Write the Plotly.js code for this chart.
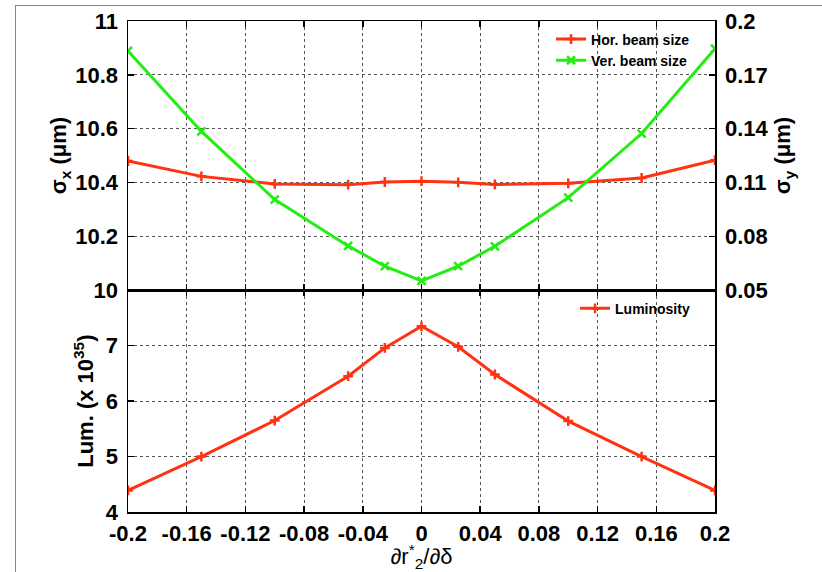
<!DOCTYPE html>
<html>
<head>
<meta charset="utf-8">
<script src="https://cdn.plot.ly/plotly-3.0.1.min.js"></script>
<style>
  html, body { margin: 0; padding: 0; background: #fff; }
  #wrap { position: relative; width: 822px; height: 572px; }
  #frame { position: absolute; left: 15px; top: 5px; width: 807px; height: 567px;
           border-left: 1px solid #888; border-top: 1px solid #888; box-sizing: border-box; pointer-events: none; z-index: 5; }
  #chart { position: absolute; left: 0; top: 0; width: 822px; height: 572px; }
</style>
</head>
<body>
<div id="wrap">
  <div id="chart"></div>
  <div id="frame"></div>
</div>
<script>
// ---- data ----
const xVals = [-0.2, -0.15, -0.1, -0.05, -0.025, 0, 0.025, 0.05, 0.1, 0.15, 0.2];
const horBeamSize = [10.480, 10.423, 10.395, 10.392, 10.402, 10.405, 10.401, 10.393, 10.397, 10.417, 10.483];
const verBeamSize = [0.1833, 0.1385, 0.1005, 0.0747, 0.0634, 0.0552, 0.0634, 0.0745, 0.1016, 0.1373, 0.1846];
const luminosity  = [4.39, 5.00, 5.65, 6.45, 6.96, 7.35, 6.98, 6.48, 5.64, 5.00, 4.39];

const xTickVals = [-0.2, -0.16, -0.12, -0.08, -0.04, 0, 0.04, 0.08, 0.12, 0.16, 0.2];
const xTickText = ["-0.2", "-0.16", "-0.12", "-0.08", "-0.04", "0", "0.04", "0.08", "0.12", "0.16", "0.2"];
const sxTickVals = [10, 10.2, 10.4, 10.6, 10.8, 11];
const sxTickText = ["10", "10.2", "10.4", "10.6", "10.8", "11"];
const syTickVals = [0.05, 0.08, 0.11, 0.14, 0.17, 0.2];
const syTickText = ["0.05", "0.08", "0.11", "0.14", "0.17", "0.2"];
const lumTickVals = [4, 5, 6, 7];
const lumTickText = ["4", "5", "6", "7"];

const RED = '#ff3311';
const GREEN = '#22ee11';
const FONT = 'Liberation Sans, Arial, sans-serif';
const tickFont = { family: FONT, size: 22, color: '#000', weight: 'bold' };
const split = 0.4516;

const traces = [
  { x: xVals, y: horBeamSize, xaxis: 'x2', yaxis: 'y2', name: 'Hor. beam size', mode: 'lines+markers',
    line: { color: RED, width: 3 }, marker: { symbol: 'cross-thin-open', size: 7, line: { color: RED, width: 2.5 } },
    legend: 'legend' },
  { x: xVals, y: verBeamSize, xaxis: 'x2', yaxis: 'y3', name: 'Ver. beam size', mode: 'lines+markers',
    line: { color: GREEN, width: 3 }, marker: { symbol: 'x-thin-open', size: 8, line: { color: GREEN, width: 2.5 } },
    legend: 'legend' },
  { x: xVals, y: luminosity, xaxis: 'x', yaxis: 'y', name: 'Luminosity', mode: 'lines+markers',
    line: { color: RED, width: 3 }, marker: { symbol: 'cross-thin-open', size: 7, line: { color: RED, width: 2.5 } },
    legend: 'legend2' }
];

const commonAx = {
  showline: true, linecolor: '#000', linewidth: 1.5,
  ticks: 'inside', ticklen: 6, tickwidth: 1.5, tickcolor: '#000',
  showgrid: true, gridcolor: '#555', griddash: 'dot', gridwidth: 1,
  zeroline: false, tickfont: tickFont
};

const layout = {
  width: 822, height: 572,
  margin: { l: 128, r: 107, t: 21, b: 60 },
  paper_bgcolor: 'rgba(0,0,0,0)', plot_bgcolor: '#fff',
  font: { family: FONT, color: '#000' },
  showlegend: true,
  xaxis: Object.assign({}, commonAx, {
    anchor: 'y', domain: [0, 1], range: [-0.2, 0.2],
    tickmode: 'array', tickvals: xTickVals, ticktext: xTickText, mirror: 'ticks',
    ticklabelstandoff: 1,
    title: { text: '∂r<sup>*</sup><sub>2</sub>/∂δ', font: { family: FONT, size: 22, color: '#000' }, standoff: 2 }
  }),
  xaxis2: Object.assign({}, commonAx, {
    anchor: 'y2', domain: [0, 1], range: [-0.2, 0.2], matches: 'x',
    tickmode: 'array', tickvals: xTickVals, ticktext: xTickText, showticklabels: false, mirror: 'ticks'
  }),
  yaxis: Object.assign({}, commonAx, {
    anchor: 'x', domain: [0, split], range: [4, 8],
    tickmode: 'array', tickvals: lumTickVals, ticktext: lumTickText, mirror: 'ticks',
    ticklabelstandoff: 4,
    title: { text: 'Lum. (x 10<sup>35</sup>)', font: { family: FONT, size: 22, color: '#000', weight: 'bold' }, standoff: 6 }
  }),
  yaxis2: Object.assign({}, commonAx, {
    anchor: 'x2', domain: [split, 1], range: [10, 11],
    tickmode: 'array', tickvals: sxTickVals, ticktext: sxTickText, mirror: 'ticks',
    ticklabelstandoff: 4,
    title: { text: 'σ<sub>x</sub> (μm)', font: { family: FONT, size: 22, color: '#000', weight: 'bold' }, standoff: 2 }
  }),
  yaxis3: Object.assign({}, commonAx, {
    anchor: 'x2', overlaying: 'y2', side: 'right', range: [0.05, 0.2],
    tickmode: 'array', tickvals: syTickVals, ticktext: syTickText, showgrid: false,
    ticklabelstandoff: 4,
    title: { text: 'σ<sub>y</sub> (μm)', font: { family: FONT, size: 22, color: '#000', weight: 'bold' }, standoff: -10 }
  }),
  legend: {
    x: 0.966, xanchor: 'right', y: 0.995, yanchor: 'top', xref: 'paper', yref: 'paper',
    bgcolor: 'rgba(0,0,0,0)', borderwidth: 0,
    font: { family: FONT, size: 14, color: '#000', weight: 'bold' }, tracegroupgap: 0, itemwidth: 30
  },
  legend2: {
    x: 0.966, xanchor: 'right', y: split - 0.005, yanchor: 'top', xref: 'paper', yref: 'paper',
    bgcolor: 'rgba(0,0,0,0)', borderwidth: 0,
    font: { family: FONT, size: 14, color: '#000', weight: 'bold' }, itemwidth: 30
  }
};

Plotly.newPlot('chart', traces, layout, { displayModeBar: false, staticPlot: true });
</script>
</body>
</html>
